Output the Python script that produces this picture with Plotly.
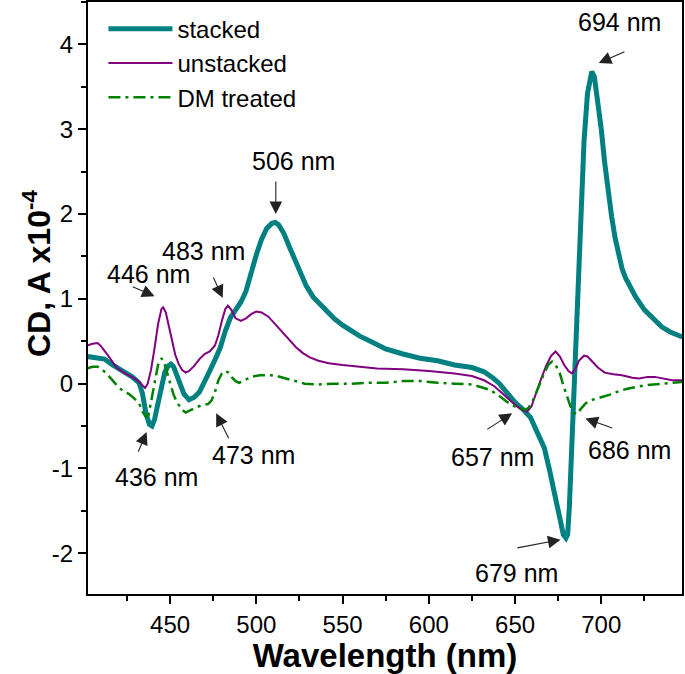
"""CD spectra of stacked / unstacked / DM treated samples."""

import plotly.graph_objects as go

# ---- data ----
stacked_nm = [402, 407, 412, 416, 420, 424, 428, 432, 434, 436, 438, 439.5, 441, 443, 445,
              447, 449, 450.5, 452, 454, 456, 458, 461, 464, 467, 470, 473, 476, 479, 482,
              485, 488, 491, 494, 497, 500, 503, 506, 509, 511, 513, 516, 519, 522, 525,
              529, 533, 537, 541, 545, 550, 555, 560, 567, 575, 585, 595, 605, 615, 625,
              632, 637, 641, 645, 650, 655, 659, 663, 667, 670, 673, 676, 678, 679.5, 680.5,
              681.5, 682.5, 684, 686, 688, 690, 692, 693.5, 694.5, 696, 698, 700, 702, 704,
              706, 708, 710, 712, 714, 717, 720, 725, 730, 735, 740, 745, 747]
stacked_cd = [0.32, 0.31, 0.29, 0.23, 0.18, 0.13, 0.08, 0.01, -0.12, -0.35, -0.48, -0.50, -0.42, -0.23, -0.02,
              0.14, 0.21, 0.23, 0.20, 0.10, -0.02, -0.12, -0.19, -0.16, -0.10, 0.01, 0.15, 0.28, 0.42, 0.62,
              0.78, 0.87, 0.96, 1.09, 1.32, 1.52, 1.70, 1.83, 1.89, 1.90, 1.87, 1.77, 1.62, 1.47, 1.33,
              1.15, 1.02, 0.93, 0.85, 0.77, 0.69, 0.62, 0.56, 0.49, 0.41, 0.35, 0.30, 0.27, 0.22, 0.19,
              0.14, 0.07, 0.0, -0.10, -0.22, -0.31, -0.40, -0.58, -0.76, -1.02, -1.32, -1.62, -1.78, -1.82, -1.78,
              -1.45, -0.95, -0.03, 0.92, 1.89, 2.86, 3.42, 3.64, 3.68, 3.62, 3.35, 3.0, 2.6, 2.25,
              1.97, 1.72, 1.50, 1.36, 1.25, 1.12, 1.02, 0.87, 0.76, 0.67, 0.61, 0.56, 0.55]

unstacked_nm = [402, 405, 408, 410, 413, 416, 419, 423, 427, 431, 434, 435.5, 437, 439, 441,
                443, 445, 446, 447.5, 449, 451, 453, 455, 457, 459, 461, 464, 467, 470, 473,
                476, 478, 480, 482, 483.5, 485.5, 488, 491, 494, 497, 500, 503, 507, 511, 515,
                519, 523, 527, 531, 536, 542, 550, 560, 570, 585, 600, 615, 625, 632, 638,
                644, 650, 654, 657, 659.5, 662, 665, 668, 671, 673.5, 676, 678.5, 681, 683, 685,
                687, 690, 692, 695, 698, 702, 707, 712, 718, 722, 727, 731, 736, 741, 747]
unstacked_cd = [0.45, 0.47, 0.48, 0.44, 0.36, 0.27, 0.19, 0.13, 0.09, 0.04, -0.02, -0.05, 0.0, 0.17, 0.42,
                0.70, 0.88, 0.90, 0.84, 0.70, 0.50, 0.34, 0.23, 0.16, 0.13, 0.15, 0.21, 0.29, 0.35, 0.38,
                0.45, 0.57, 0.74, 0.88, 0.92, 0.87, 0.77, 0.74, 0.77, 0.82, 0.85, 0.84, 0.79, 0.70, 0.60,
                0.51, 0.43, 0.36, 0.31, 0.27, 0.24, 0.22, 0.20, 0.18, 0.17, 0.15, 0.12, 0.09, 0.04, -0.03,
                -0.14, -0.25, -0.31, -0.33, -0.27, -0.12, 0.05, 0.21, 0.33, 0.38, 0.32, 0.22, 0.15, 0.12, 0.17,
                0.27, 0.33, 0.32, 0.26, 0.19, 0.13, 0.11, 0.10, 0.07, 0.06, 0.08, 0.08, 0.06, 0.04, 0.04]

dm_nm = [402, 405, 408, 411, 414, 417, 420, 423, 426, 429, 432, 434, 436, 437.5, 439,
         441, 443, 445, 446.5, 448, 450, 452, 454, 457, 459, 462, 465, 469, 472, 474,
         476, 478, 480, 482, 484, 486, 488, 490, 493, 497, 502, 507, 512, 517, 522,
         528, 535, 545, 555, 565, 575, 585, 595, 605, 615, 625, 630, 635, 640, 645,
         650, 654, 656, 658, 661, 664, 667, 669.5, 671.5, 673.5, 676, 678, 680, 682, 684,
         686, 688, 691, 695, 700, 705, 710, 715, 720, 725, 730, 735, 740, 747]
dm_cd = [0.18, 0.20, 0.20, 0.16, 0.10, 0.03, -0.04, -0.09, -0.12, -0.17, -0.23, -0.33, -0.39, -0.37, -0.22,
         0.02, 0.22, 0.30, 0.25, 0.15, 0.0, -0.13, -0.22, -0.31, -0.34, -0.31, -0.28, -0.25, -0.24, -0.20,
         -0.10, 0.04, 0.12, 0.15, 0.13, 0.07, 0.03, 0.01, 0.04, 0.08, 0.10, 0.10, 0.09, 0.06, 0.03,
         0.0, -0.01, 0.0, 0.0, 0.01, 0.01, 0.03, 0.03, 0.01, 0.0, -0.01, -0.04, -0.07, -0.13, -0.21,
         -0.27, -0.30, -0.31, -0.28, -0.17, -0.02, 0.13, 0.23, 0.26, 0.22, 0.12, -0.02, -0.15, -0.26, -0.34,
         -0.36, -0.30, -0.23, -0.19, -0.16, -0.13, -0.09, -0.06, -0.04, -0.02, -0.01, 0.0, 0.01, 0.02]

# y tick labels use a plain hyphen, as in the original
y_tick_vals = [-2, -1, 0, 1, 2, 3, 4]
y_tick_text = ["-2", "-1", "0", "1", "2", "3", "4"]

# peak labels: text, text position, arrow tip, arrow tail (data coords)
peak_labels = ["694 nm", "506 nm", "446 nm", "483 nm", "436 nm", "473 nm", "657 nm", "686 nm", "679 nm"]
label_x = [710.7, 521.4, 437.5, 469.2, 442.2, 498.5, 637.2, 716.5, 650.9]
label_y = [4.26, 2.63, 1.29, 1.56, -1.10, -0.84, -0.86, -0.78, -2.23]
tip_x = [698.5, 511.3, 441.0, 480.5, 436.4, 476.7, 648.3, 690.8, 676.4]
tip_y = [3.78, 2.0, 1.03, 1.01, -0.57, -0.35, -0.35, -0.41, -1.84]
tail_x = [714.3, 511.3, 427.5, 474.7, 431.2, 484.4, 633.0, 707.2, 650.5]
tail_y = [3.92, 2.40, 1.15, 1.27, -0.82, -0.66, -0.55, -0.53, -1.94]

FONT = "Arial, Liberation Sans, sans-serif"

fig = go.Figure()

fig.add_trace(go.Scatter(x=stacked_nm, y=stacked_cd, mode="lines", name="stacked",
                         line={"color": "#008080", "width": 5}))
fig.add_trace(go.Scatter(x=unstacked_nm, y=unstacked_cd, mode="lines", name="unstacked",
                         line={"color": "#800080", "width": 2}))
fig.add_trace(go.Scatter(x=dm_nm, y=dm_cd, mode="lines", name="DM treated",
                         line={"color": "#008000", "width": 2.5, "dash": "12px,5px,3px,5px"}))

# labels and arrows
for text, lx, ly, tx, ty, ax, ay in zip(peak_labels, label_x, label_y, tip_x, tip_y, tail_x, tail_y):
    fig.add_annotation(x=lx, y=ly, text=text, showarrow=False,
                       font={"family": FONT, "size": 25, "color": "black"})
    fig.add_annotation(x=tx, y=ty, ax=ax, ay=ay, axref="x", ayref="y", text="",
                       showarrow=True, arrowhead=2, arrowsize=2.3, arrowwidth=1.1,
                       arrowcolor="#222222")

# y title as annotation so it sits where the original does
fig.add_annotation(xref="paper", yref="paper", x=-0.087, y=0.541,
                   text="<b>CD, A x10<sup>-4</sup></b>", textangle=-90, showarrow=False,
                   xanchor="center", yanchor="middle",
                   font={"family": FONT, "size": 32, "color": "black"})

axis_common = {
    "showline": True, "linecolor": "black", "linewidth": 2, "mirror": True,
    "ticks": "outside", "ticklen": 8, "tickwidth": 2, "tickcolor": "black",
    "showgrid": False, "zeroline": False,
    "tickfont": {"family": FONT, "size": 24, "color": "black"},
}

fig.update_layout(
    width=685, height=674,
    margin={"l": 88, "r": 3, "t": 2, "b": 80, "autoexpand": False},
    paper_bgcolor="white", plot_bgcolor="white",
    font={"family": FONT, "color": "black"},
    xaxis={**axis_common, "range": [402.4, 746.8], "dtick": 50, "tick0": 0,
           "minor": {"dtick": 25, "ticks": "outside", "ticklen": 5, "tickwidth": 2, "tickcolor": "black"},
           "title": {"text": "<b>Wavelength (nm)</b>", "font": {"family": FONT, "size": 33}, "standoff": 4}},
    yaxis={**axis_common, "range": [-2.48, 4.5], "tickvals": y_tick_vals, "ticktext": y_tick_text,
           "minor": {"dtick": 0.5, "ticks": "outside", "ticklen": 5, "tickwidth": 2, "tickcolor": "black"}},
    showlegend=True,
    legend={"x": 0.026, "y": 0.992, "xanchor": "left", "yanchor": "top",
            "bgcolor": "rgba(0,0,0,0)", "itemwidth": 64,
            "font": {"family": FONT, "size": 24, "color": "black"}},
)

# drop the page's default body margin so the figure sits at the window's top-left
fig.write_html("out.html", config={"displayModeBar": False},
               post_script="document.body.style.margin='0';document.body.style.overflow='hidden';")
